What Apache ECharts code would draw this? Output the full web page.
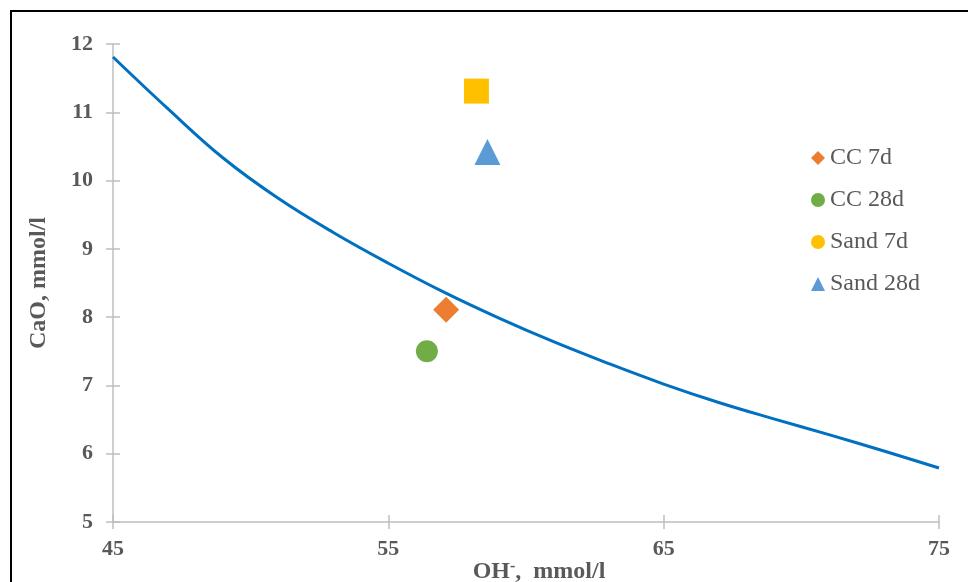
<!DOCTYPE html>
<html>
<head>
<meta charset="utf-8">
<script src="https://cdn.jsdelivr.net/npm/echarts@6/dist/echarts.min.js"></script>
<style>html,body{margin:0;padding:0;background:#fff}#c{width:968px;height:582px}</style>
</head>
<body>
<div id="c"></div>
<script>
// Curve (OH-, CaO)
var curveX = [45, 47, 49, 51, 53, 55, 57, 59, 61, 63, 65, 67, 69, 71, 73, 75];
var curveY = [11.81, 11.05, 10.33, 9.74, 9.24, 8.79, 8.37, 7.99, 7.64, 7.32, 7.02, 6.75, 6.51, 6.28, 6.04, 5.79];
// Measured points
var seriesNames = ['CC 7d', 'CC 28d', 'Sand 7d', 'Sand 28d'];
var pointX = [57.1, 56.4, 58.2, 58.6];
var pointY = [8.11, 7.5, 11.31, 10.42];
var xTicks = [45, 55, 65, 75];
var yTicks = [5, 6, 7, 8, 9, 10, 11, 12];

var serif = '"Liberation Serif","Times New Roman",serif';
var txt = '#595959';
var axisCol = '#BFBFBF';

var chart = echarts.init(document.getElementById('c'), null, {renderer: 'canvas'});

var markerStyles = [
  {symbol: 'diamond', size: 26, color: '#ED7D31', icon: 'diamond'},
  {symbol: 'circle', size: 22, color: '#70AD47', icon: 'circle'},
  {symbol: 'rect', size: 25, color: '#FFC000', icon: 'circle'},
  {symbol: 'triangle', size: 26, color: '#5B9BD5', icon: 'triangle'}
];

var series = [{
  type: 'line',
  name: 'curve',
  data: curveX.map(function (x, i) { return [x, curveY[i]]; }),
  smooth: 0.4,
  showSymbol: false,
  lineStyle: {color: '#0070C0', width: 3},
  itemStyle: {color: '#0070C0'},
  z: 2
}];
seriesNames.forEach(function (n, i) {
  series.push({
    type: 'scatter',
    name: n,
    data: [[pointX[i], pointY[i]]],
    symbol: markerStyles[i].symbol,
    symbolSize: markerStyles[i].size,
    itemStyle: {color: markerStyles[i].color, opacity: 1},
    z: 3
  });
});

function mkX(inside, show) {
  return {
    type: 'value', min: xTicks[0], max: xTicks[xTicks.length - 1], interval: 10,
    position: 'bottom',
    splitLine: {show: false},
    axisLine: {show: show, lineStyle: {color: axisCol, width: 1.5}},
    axisTick: {show: true, inside: inside, length: 7, lineStyle: {color: axisCol, width: 1.5}},
    axisLabel: {show: show, margin: 16, color: txt, fontFamily: serif, fontWeight: 'bold', fontSize: 22},
    name: show ? '{b|OH}{s|-}{b|,  mmol/l}' : '',
    nameLocation: 'middle',
    nameGap: 37,
    nameMoveOverlap: false,
    nameTextStyle: {
      padding: [0, 0, 0, 26],
      rich: {
        b: {fontFamily: serif, fontWeight: 'bold', fontSize: 24, color: txt},
        s: {fontFamily: serif, fontWeight: 'bold', fontSize: 16, color: txt, padding: [0, 0, 10, 0]}
      }
    }
  };
}
function mkY(inside, show) {
  return {
    type: 'value', min: yTicks[0], max: yTicks[yTicks.length - 1], interval: 1,
    position: 'left',
    splitLine: {show: false},
    axisLine: {show: show, lineStyle: {color: axisCol, width: 1.5}},
    axisTick: {show: true, inside: inside, length: 7, lineStyle: {color: axisCol, width: 1.5}},
    axisLabel: {show: show, margin: 20, color: txt, fontFamily: serif, fontWeight: 'bold', fontSize: 22},
    name: show ? 'CaO, mmol/l' : '',
    nameLocation: 'middle',
    nameGap: 62,
    nameMoveOverlap: false,
    nameRotate: 90,
    nameTextStyle: {fontFamily: serif, fontWeight: 'bold', fontSize: 24, color: txt}
  };
}

chart.setOption({
  animation: false,
  backgroundColor: '#fff',
  grid: {left: 113, right: 29, top: 44, bottom: 60, containLabel: false, outerBoundsMode: 'none'},
  xAxis: [mkX(false, true), mkX(true, false)],
  yAxis: [mkY(false, true), mkY(true, false)],
  legend: {
    orient: 'vertical',
    left: 806,
    top: 141,
    itemWidth: 14,
    itemHeight: 14,
    itemGap: 18,
    data: seriesNames.map(function (n, i) {
      return {name: n, icon: markerStyles[i].icon};
    }),
    textStyle: {fontFamily: serif, fontSize: 24, color: txt}
  },
  graphic: [{
    type: 'rect',
    shape: {x: 11, y: 11, width: 1200, height: 800},
    style: {fill: 'none', stroke: '#000', lineWidth: 2},
    silent: true
  }],
  series: series
});
</script>
</body>
</html>
